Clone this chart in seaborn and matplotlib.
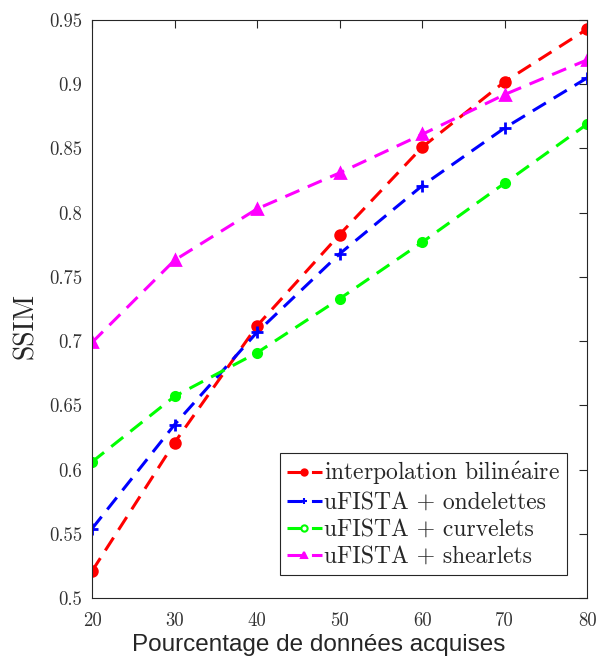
import numpy as np
import pandas as pd
import matplotlib
matplotlib.use("Agg")
import matplotlib.pyplot as plt
import seaborn as sns

# donnees
pourcentage = [20, 30, 40, 50, 60, 70, 80]
ssim_bilineaire = [0.521, 0.621, 0.712, 0.783, 0.851, 0.902, 0.943]
ssim_ondelettes = [0.554, 0.635, 0.707, 0.768, 0.821, 0.866, 0.905]
ssim_curvelets = [0.606, 0.657, 0.691, 0.733, 0.777, 0.823, 0.869]
ssim_shearlets = [0.699, 0.763, 0.803, 0.831, 0.861, 0.892, 0.919]

noms = ['interpolation bilin$\\acute{\\mathrm{e}}$aire', 'uFISTA + ondelettes',
        'uFISTA + curvelets', 'uFISTA + shearlets']
yticks = [0.5, 0.55, 0.6, 0.65, 0.7, 0.75, 0.8, 0.85, 0.9, 0.95]
ytick_labels = ['0.5', '0.55', '0.6', '0.65', '0.7', '0.75', '0.8', '0.85', '0.9', '0.95']
xticks = [20, 30, 40, 50, 60, 70, 80]

sns.set_style("white")
serif = ['cmr10', 'DejaVu Serif']
plt.rcParams['axes.unicode_minus'] = False
plt.rcParams['mathtext.fontset'] = 'cm'

fig = plt.figure(figsize=(5.98, 6.59), dpi=100)
ax = fig.add_axes([0.154, 0.0926, 0.828, 0.877])

series = [ssim_bilineaire, ssim_ondelettes, ssim_curvelets, ssim_shearlets]
couleurs = ['#ff0000', '#0000ff', '#00ff00', '#ff00ff']
marqueurs = ['o', '+', 'o', '^']
tailles = [7, 9, 6, 7]

for nom, vals, c, m, s in zip(noms, series, couleurs, marqueurs, tailles):
    df = pd.DataFrame({'x': pourcentage, 'y': vals})
    sns.lineplot(data=df, x='x', y='y', ax=ax, color=c, marker=m,
                 markerfacecolor=c, markeredgecolor=c, markersize=s,
                 markeredgewidth=2, linewidth=2.2, linestyle=(0, (5, 3)),
                 label=nom)

ax.set_xlim(20, 80)
ax.set_ylim(0.5, 0.95)
ax.set_xticks(xticks)
ax.set_xticklabels([str(v) for v in xticks], family=serif, fontsize=13.5, color='#333333')
ax.set_yticks(yticks)
ax.set_yticklabels(ytick_labels, family=serif, fontsize=13.5, color='#333333')
ax.tick_params(direction='in', length=6, width=0.8, top=True, right=True,
               pad=7, color='#262626')
ax.tick_params(axis='x', pad=10)
for sp in ax.spines.values():
    sp.set_visible(True)
    sp.set_color('#262626')
    sp.set_linewidth(0.8)

ax.set_xlabel('Pourcentage de données acquises', family=['Liberation Sans', 'DejaVu Sans'],
              fontsize=17.5, color='#262626')
ax.xaxis.set_label_coords(0.457, -0.062)
ax.set_ylabel('SSIM', family=serif, fontsize=20, color='#262626')
ax.yaxis.set_label_coords(-0.108, 0.47)

leg = ax.legend(loc='lower right', bbox_to_anchor=(0.96, 0.04), prop={'family': serif, 'size': 17},
                handlelength=1.5, handletextpad=0.1, borderpad=0.3, labelspacing=0.2,
                fancybox=False, framealpha=1, edgecolor='#262626', borderaxespad=0)
leg.get_frame().set_linewidth(0.8)
for h in leg.get_lines():
    h.set_markersize(4.5)
    h.set_markeredgewidth(1.5)
# le marqueur vert de la legende est creux
leg.get_lines()[2].set_markerfacecolor('white')

fig.savefig('out.png', dpi=100)
